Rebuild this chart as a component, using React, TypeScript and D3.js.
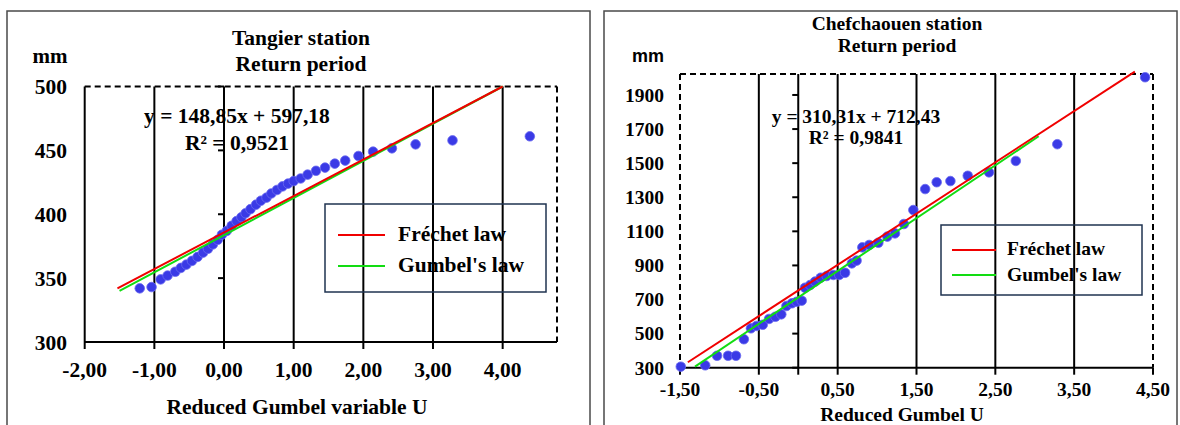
import React from "react";
import * as d3 from "d3";

// ---------- Data: Tangier ----------
const tangierU = [
  -1.21, -1.04, -0.91, -0.81, -0.7, -0.62, -0.54, -0.46, -0.38, -0.3, -0.23, -0.16, -0.09, -0.03,
  0.04, 0.11, 0.18, 0.25, 0.31, 0.38, 0.46, 0.53, 0.61, 0.68, 0.76, 0.84, 0.92, 1.0, 1.1, 1.2,
  1.32, 1.45, 1.59, 1.74, 1.93, 2.14, 2.41, 2.75, 3.28, 4.39,
];
const tangierMm = [
  342, 343, 349, 352, 355, 358, 360.6, 363.5, 366.6, 370, 373, 376.4, 380, 384, 387, 391, 394.6,
  397.7, 400.8, 404, 407.5, 410.6, 413, 416.3, 419, 421.8, 424, 426, 428, 431, 434, 436.5, 439.6,
  442, 445.6, 449, 451.6, 454.7, 457.8, 461,
];
const tangierFrechet: [number, number][] = [[-1.53, 342], [4.0, 500]];
const tangierGumbel: [number, number][] = [[-1.5, 340], [4.0, 500]];
const tangierXTicks = [-2, -1, 0, 1, 2, 3, 4];
const tangierGrid = [-1, 0, 1, 2, 3, 4];
const tangierYTicks = [300, 350, 400, 450, 500];

// ---------- Data: Chefchaouen ----------
const chefU = [
  -1.49, -1.18, -1.03, -0.89, -0.79, -0.69, -0.6, -0.53, -0.45, -0.37, -0.29, -0.215, -0.15, -0.08,
  -0.02, 0.044, 0.086, 0.15, 0.213, 0.285, 0.36, 0.445, 0.52, 0.594, 0.68, 0.74, 0.813, 0.9, 1.016,
  1.13, 1.227, 1.34, 1.46, 1.61, 1.756, 1.93, 2.15, 2.42, 2.76, 3.286, 4.4,
];
const chefMm = [
  306, 314, 370, 370, 370, 467, 531, 545, 552, 586, 599, 613, 662, 678, 687, 693, 769, 785, 805, 828,
  838, 844, 844, 857, 912, 928, 1006, 1020, 1033, 1069, 1088, 1143, 1225, 1348, 1388, 1395, 1426,
  1446, 1513, 1611, 2004,
];
const chefFrechet: [number, number][] = [[-1.4, 332], [4.27, 2037]];
const chefGumbel: [number, number][] = [[-1.31, 306], [3.05, 1658]];
const chefXTicks = [-1.5, -0.5, 0.5, 1.5, 2.5, 3.5, 4.5];
const chefGrid = [-0.5, 0, 0.5, 1.5, 2.5, 3.5];
const chefYTicks = [300, 500, 700, 900, 1100, 1300, 1500, 1700, 1900];

const SERIF = "'Liberation Serif', 'Times New Roman', serif";
const SANS = "'Liberation Sans', Arial, sans-serif";

const fmtComma = (v: number) => (v < 0 ? "-" : "") + Math.abs(v).toFixed(2).replace(".", ",");

type PanelCfg = {
  frame: { x: number; y: number; w: number; h: number };
  plot: { x0: number; x1: number; y0: number; y1: number };
  xDomain: [number, number];
  yDomain: [number, number];
  fs: number;
  title1: string;
  title2: string;
  titleX: number;
  titleY1: number;
  titleY2: number;
  mm: { x: number; y: number; font: string; fs: number };
  yLabelX: number;
  xLabelY: number;
  axisTitle: string;
  axisTitleX: number;
  axisTitleY: number;
  eq1: string;
  eq2: string;
  eqX: number;
  eqY1: number;
  eqY2: number;
  legend: { x: number; y: number; w: number; h: number; lx0: number; lx1: number; ry: number; gy: number; tx: number; ty1: number; ty2: number };
  leftDashed: boolean;
  xs: number[];
  ys: number[];
  frechet: [number, number][];
  gumbel: [number, number][];
  xTicks: number[];
  grid: number[];
  yTicks: number[];
};

function Panel({ c }: { c: PanelCfg }) {
  const x = d3.scaleLinear().domain(c.xDomain).range([c.plot.x0, c.plot.x1]);
  const y = d3.scaleLinear().domain(c.yDomain).range([c.plot.y1, c.plot.y0]);
  const line = d3
    .line<[number, number]>()
    .x((d) => x(d[0]))
    .y((d) => y(d[1]));
  const dash = "6 4";
  const p = c.plot;
  return (
    <g>
      <rect x={c.frame.x} y={c.frame.y} width={c.frame.w} height={c.frame.h} fill="#fff" stroke="#4a4a4a" strokeWidth={1.5} />
      {/* titles */}
      <text x={c.titleX} y={c.titleY1} textAnchor="middle" fontFamily={SERIF} fontWeight="bold" fontSize={c.fs}>
        {c.title1}
      </text>
      <text x={c.titleX} y={c.titleY2} textAnchor="middle" fontFamily={SERIF} fontWeight="bold" fontSize={c.fs}>
        {c.title2}
      </text>
      <text x={c.mm.x} y={c.mm.y} textAnchor="middle" fontFamily={c.mm.font} fontWeight="bold" fontSize={c.mm.fs}>
        mm
      </text>
      {/* plot border */}
      <line x1={p.x0} x2={p.x1} y1={p.y0} y2={p.y0} stroke="#000" strokeWidth={2} strokeDasharray={dash} />
      <line x1={p.x1} x2={p.x1} y1={p.y0} y2={p.y1} stroke="#000" strokeWidth={2} strokeDasharray={dash} />
      <line
        x1={p.x0}
        x2={p.x0}
        y1={p.y0}
        y2={p.y1}
        stroke="#000"
        strokeWidth={2}
        strokeDasharray={c.leftDashed ? dash : undefined}
      />
      {/* gridlines */}
      {c.grid.map((g) => (
        <line key={"g" + g} x1={x(g)} x2={x(g)} y1={p.y0} y2={p.y1} stroke="#000" strokeWidth={2} />
      ))}
      {/* y ticks on x=0 axis */}
      {c.yTicks.map((t) => (
        <line key={"yt" + t} x1={x(0) - 6} x2={x(0)} y1={y(t)} y2={y(t)} stroke="#000" strokeWidth={2} />
      ))}
      {/* x axis */}
      <line x1={p.x0} x2={p.x1} y1={p.y1} y2={p.y1} stroke="#000" strokeWidth={2} />
      {[...c.xTicks, 0].map((t) => (
        <line key={"xt" + t} x1={x(t)} x2={x(t)} y1={p.y1} y2={p.y1 + 7} stroke="#000" strokeWidth={2} />
      ))}
      {/* tick labels */}
      {c.xTicks.map((t) => (
        <text key={"xl" + t} x={x(t)} y={c.xLabelY} textAnchor="middle" fontFamily={SERIF} fontWeight="bold" fontSize={c.fs}>
          {fmtComma(t)}
        </text>
      ))}
      {c.yTicks.map((t) => (
        <text
          key={"yl" + t}
          x={c.yLabelX}
          y={y(t)}
          dy="0.35em"
          textAnchor="end"
          fontFamily={SERIF}
          fontWeight="bold"
          fontSize={c.fs}
        >
          {t}
        </text>
      ))}
      <text x={c.axisTitleX} y={c.axisTitleY} textAnchor="middle" fontFamily={SERIF} fontWeight="bold" fontSize={c.fs}>
        {c.axisTitle}
      </text>
      {/* points */}
      {c.xs.map((u, i) => (
        <circle key={"p" + i} cx={x(u)} cy={y(c.ys[i])} r={4.8} fill="#3a3ae6" stroke="#6a6af0" strokeWidth={0.8} />
      ))}
      {/* fit lines */}
      <path d={line(c.gumbel) || ""} stroke="#12dc12" strokeWidth={2} fill="none" />
      <path d={line(c.frechet) || ""} stroke="#f00000" strokeWidth={2} fill="none" />
      {/* equation */}
      <text x={c.eqX} y={c.eqY1} textAnchor="middle" fontFamily={SERIF} fontWeight="bold" fontSize={c.fs}>
        {c.eq1}
      </text>
      <text x={c.eqX} y={c.eqY2} textAnchor="middle" fontFamily={SERIF} fontWeight="bold" fontSize={c.fs}>
        {c.eq2}
      </text>
      {/* legend */}
      <rect x={c.legend.x} y={c.legend.y} width={c.legend.w} height={c.legend.h} fill="none" stroke="#1f3350" strokeWidth={1.5} />
      <line x1={c.legend.lx0} x2={c.legend.lx1} y1={c.legend.ry} y2={c.legend.ry} stroke="#f00000" strokeWidth={2} />
      <line x1={c.legend.lx0} x2={c.legend.lx1} y1={c.legend.gy} y2={c.legend.gy} stroke="#12dc12" strokeWidth={2} />
      <text x={c.legend.tx} y={c.legend.ty1} fontFamily={SERIF} fontWeight="bold" fontSize={c.fs}>
        Fréchet law
      </text>
      <text x={c.legend.tx} y={c.legend.ty2} fontFamily={SERIF} fontWeight="bold" fontSize={c.fs}>
        Gumbel's law
      </text>
    </g>
  );
}

const leftCfg: PanelCfg = {
  frame: { x: 7, y: 11, w: 583, h: 430 },
  plot: { x0: 84.7, x1: 557, y0: 86.5, y1: 342 },
  xDomain: [-2, 4.78],
  yDomain: [300, 500],
  fs: 21.5,
  title1: "Tangier station",
  title2: "Return period",
  titleX: 301,
  titleY1: 45,
  titleY2: 71,
  mm: { x: 50, y: 63, font: SERIF, fs: 21 },
  yLabelX: 67,
  xLabelY: 377,
  axisTitle: "Reduced Gumbel variable U",
  axisTitleX: 297,
  axisTitleY: 414,
  eq1: "y = 148,85x + 597,18",
  eq2: "R² = 0,9521",
  eqX: 237,
  eqY1: 123,
  eqY2: 150,
  legend: { x: 325, y: 204, w: 221, h: 88, lx0: 338, lx1: 385, ry: 235, gy: 266, tx: 398, ty1: 241, ty2: 272 },
  leftDashed: false,
  xs: tangierU,
  ys: tangierMm,
  frechet: tangierFrechet,
  gumbel: tangierGumbel,
  xTicks: tangierXTicks,
  grid: tangierGrid,
  yTicks: tangierYTicks,
};

const rightCfg: PanelCfg = {
  frame: { x: 604, y: 11, w: 573, h: 430 },
  plot: { x0: 680, x1: 1153, y0: 74, y1: 367.7 },
  xDomain: [-1.5, 4.5],
  yDomain: [300, 2023],
  fs: 19.5,
  title1: "Chefchaouen station",
  title2: "Return period",
  titleX: 897,
  titleY1: 30,
  titleY2: 52,
  mm: { x: 648, y: 62, font: SANS, fs: 18 },
  yLabelX: 664,
  xLabelY: 396,
  axisTitle: "Reduced Gumbel U",
  axisTitleX: 902,
  axisTitleY: 421,
  eq1: "y = 310,31x + 712,43",
  eq2: "R² = 0,9841",
  eqX: 856,
  eqY1: 123,
  eqY2: 144,
  legend: { x: 941, y: 225, w: 201, h: 70, lx0: 952, lx1: 996, ry: 250, gy: 275, tx: 1007, ty1: 255, ty2: 281 },
  leftDashed: true,
  xs: chefU,
  ys: chefMm,
  frechet: chefFrechet,
  gumbel: chefGumbel,
  xTicks: chefXTicks,
  grid: chefGrid,
  yTicks: chefYTicks,
};

export default function App() {
  return (
    <svg
      width={1180}
      height={425}
      viewBox="0 0 1180 425"
      style={{ position: "absolute", left: 0, top: 0, background: "#fff" }}
    >
      <rect x={0} y={0} width={1180} height={425} fill="#fff" />
      <Panel c={leftCfg} />
      <Panel c={rightCfg} />
    </svg>
  );
}
